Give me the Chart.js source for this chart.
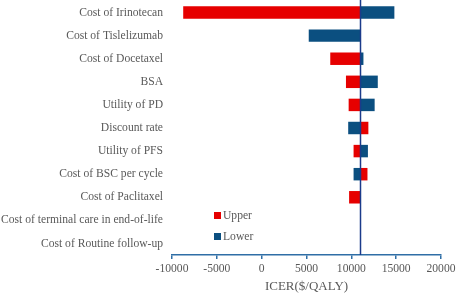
<!DOCTYPE html>
<html>
<head>
<meta charset="utf-8">
<script src="https://cdn.jsdelivr.net/npm/chart.js@4.4.1/dist/chart.umd.min.js"></script>
<style>
  html, body { margin: 0; padding: 0; background: #fff; }
  #wrap { width: 457px; height: 295px; position: relative; }
</style>
</head>
<body>
<div id="wrap"><canvas id="chart" width="457" height="295"></canvas></div>
<script>
// tornado data: ICER at upper / lower bound of each parameter
const categories = [
  'Cost of Irinotecan',
  'Cost of Tislelizumab',
  'Cost of Docetaxel',
  'BSA',
  'Utility of PD',
  'Discount rate',
  'Utility of PFS',
  'Cost of BSC per cycle',
  'Cost of Paclitaxel',
  'Cost of terminal care in end-of-life',
  'Cost of Routine follow-up'
];
const baseIcer = 11000;
const upperValues = [-8750, null, 7650, 9400, 9700, 11900, 10250, 11800, 9750, null, null];
const lowerValues = [14800, 5250, 11350, 12950, 12600, 9650, 11850, 10250, null, null, null];
const xTicks = [-10000, -5000, 0, 5000, 10000, 15000, 20000];

const RED = '#e60000';
const BLUE = '#0b4f80';
const AXIS_BLUE = '#2f6ea6';
const TEXT = '#595959';
const SERIF = "'Liberation Serif', 'Times New Roman', serif";

const toRange = vals => vals.map(v => (v === null ? null : [baseIcer, v]));

const baseLinePlugin = {
  id: 'baseLine',
  afterDatasetsDraw(chart) {
    const { ctx, chartArea, scales } = chart;
    const x = Math.round(scales.x.getPixelForValue(baseIcer)) + 0.5;
    ctx.save();
    ctx.strokeStyle = '#1b3b8b';
    ctx.lineWidth = 1.5;
    ctx.beginPath();
    ctx.moveTo(x, 0);
    ctx.lineTo(x, chartArea.bottom);
    ctx.stroke();
    ctx.restore();
  }
};

const innerLegendPlugin = {
  id: 'innerLegend',
  afterDraw(chart) {
    const { ctx, chartArea } = chart;
    const x0 = chartArea.left + 42;
    const rows = [
      { label: 'Upper', color: RED, y: 215.5 },
      { label: 'Lower', color: BLUE, y: 236.5 }
    ];
    ctx.save();
    ctx.font = `11.6px ${SERIF}`;
    ctx.textBaseline = 'middle';
    ctx.textAlign = 'left';
    rows.forEach(r => {
      ctx.fillStyle = r.color;
      ctx.fillRect(x0, r.y - 3.5, 7, 7);
      ctx.fillStyle = TEXT;
      ctx.fillText(r.label, x0 + 9, r.y + 0.5);
    });
    ctx.restore();
  }
};

new Chart(document.getElementById('chart'), {
  type: 'bar',
  data: {
    labels: categories,
    datasets: [
      {
        label: 'Upper',
        data: toRange(upperValues),
        backgroundColor: RED,
        grouped: false,
        categoryPercentage: 1,
        barPercentage: 0.54
      },
      {
        label: 'Lower',
        data: toRange(lowerValues),
        backgroundColor: BLUE,
        grouped: false,
        categoryPercentage: 1,
        barPercentage: 0.54
      }
    ]
  },
  options: {
    indexAxis: 'y',
    responsive: false,
    animation: false,
    layout: { padding: { top: 1, right: 16, bottom: 0, left: 0 } },
    plugins: {
      legend: { display: false },
      tooltip: { enabled: false }
    },
    scales: {
      x: {
        type: 'linear',
        min: -10000,
        max: 20000,
        afterBuildTicks(scale) {
          scale.ticks = xTicks.map(v => ({ value: v }));
        },
        afterFit(scale) {
          scale.height = 40;
          scale.paddingLeft = 0;
          scale.paddingRight = 0;
        },
        grid: {
          drawOnChartArea: false,
          drawTicks: true,
          tickLength: 4,
          color: AXIS_BLUE,
          lineWidth: 1.5
        },
        border: { color: AXIS_BLUE, width: 1.5 },
        ticks: {
          color: TEXT,
          font: { family: SERIF, size: 11.6 },
          padding: 3,
          maxRotation: 0,
          callback: v => String(v)
        },
        title: {
          display: true,
          text: 'ICER($/QALY)',
          color: TEXT,
          font: { family: SERIF, size: 13 },
          padding: { top: 0, bottom: 1 }
        }
      },
      y: {
        afterFit(scale) {
          scale.width = 172;
          scale.paddingTop = 0;
          scale.paddingBottom = 0;
        },
        grid: { display: false, drawTicks: false },
        border: { display: false },
        ticks: {
          color: TEXT,
          font: { family: SERIF, size: 11.6 },
          padding: 9,
          autoSkip: false
        }
      }
    }
  },
  plugins: [baseLinePlugin, innerLegendPlugin]
});
</script>
</body>
</html>
